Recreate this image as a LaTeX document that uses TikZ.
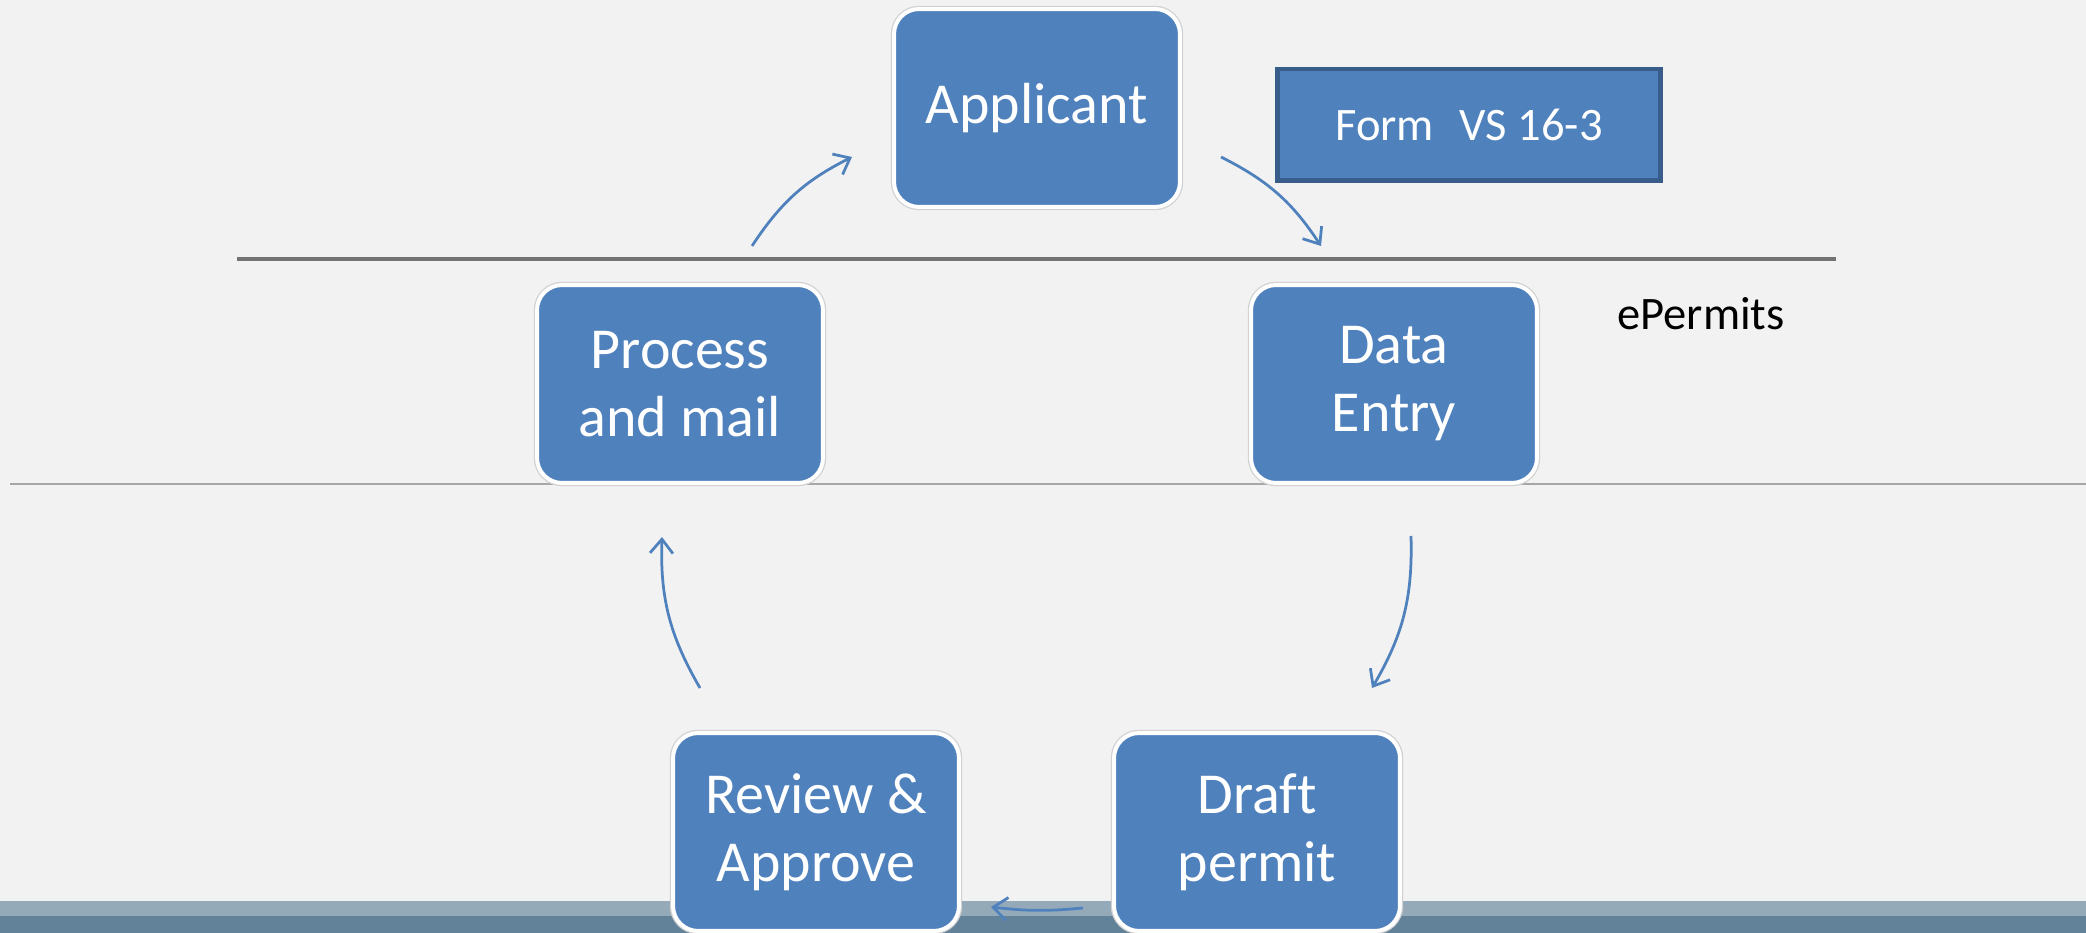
\documentclass[tikz,border=0pt]{standalone}
\usepackage{fontspec}
\setmainfont{Carlito}[Ligatures=CommonOff]
\usetikzlibrary{arrows.meta}
\definecolor{boxblue}{HTML}{4F81BD}
\definecolor{formedge}{HTML}{385D8A}
\definecolor{slidebg}{HTML}{F2F2F2}
\definecolor{bandlight}{HTML}{94AAB9}
\definecolor{banddark}{HTML}{62829A}
\begin{document}
\begin{tikzpicture}[x = 0.02cm, y = 0.02cm,
    stage/.style = {rectangle, rounded corners = 0.5cm, fill = boxblue,
        preaction = {draw = black!18, line width = 0.13cm},
        draw = white, line width = 0.08cm,
        minimum width = 5.72cm, minimum height = 3.96cm, inner sep = 0pt,
        text = white, align = center, font = \fontsize{33}{38.7}\selectfont},
    flow/.style = {draw = boxblue, line width = 0.055cm,
        -{Straight Barb[length = 8pt, width = 13pt]}}]
    \useasboundingbox (0,0) rectangle (2086,933);
    \fill [color=slidebg] (0,0) rectangle (2086,933);
    \fill [color=bandlight] (0,17) rectangle (2086,32);
    \fill [color=banddark] (0,0) rectangle (2086,17);
    \draw [color=black!55, line width=0.065cm] (237,674) -- (1836,674);
    \draw [color=black!35, line width=0.045cm] (10,449) -- (2086,449);
    \node [stage] (appl) at (1037,825) {Applicant};
    \node [stage] (proc) at (680,549) {Process\\and mail};
    \node [stage] (dent) at (1394,549) {Data\\Entry};
    \node [stage] (review) at (816,101) {Review \&\\Approve};
    \node [stage] (draft) at (1257,101) {Draft\\permit};
    \node [rectangle, fill=boxblue, draw=formedge, line width=0.1cm,
        minimum width=7.66cm, minimum height=2.24cm, text=white,
        font=\fontsize{26.5}{31}\selectfont] (form) at (1469,808) {Form\hspace{0.55em}VS 16-3};
    \node [anchor=base, font=\fontsize{26.5}{31}\selectfont] (epermits) at (1701,603) {ePermits};
    \coordinate (a1s) at (752,687);
    \coordinate (a1e) at (852,776);
    \coordinate (a2s) at (1221,776);
    \coordinate (a2e) at (1321,687);
    \coordinate (a3s) at (1411,397);
    \coordinate (a3e) at (1372,245);
    \coordinate (a4s) at (1083,25);
    \coordinate (a4e) at (991,26);
    \coordinate (a5s) at (700,245);
    \coordinate (a5e) at (662,396);
    \draw [flow] (a1s) to [bend left=15] (a1e);
    \draw [flow] (a2s) to [bend left=15] (a2e);
    \draw [flow] (a3s) to [bend left=16] (a3e);
    \draw [flow] (a4s) to [bend left=6] (a4e);
    \draw [flow] (a5s) to [bend left=16] (a5e);
\end{tikzpicture}
\end{document}
